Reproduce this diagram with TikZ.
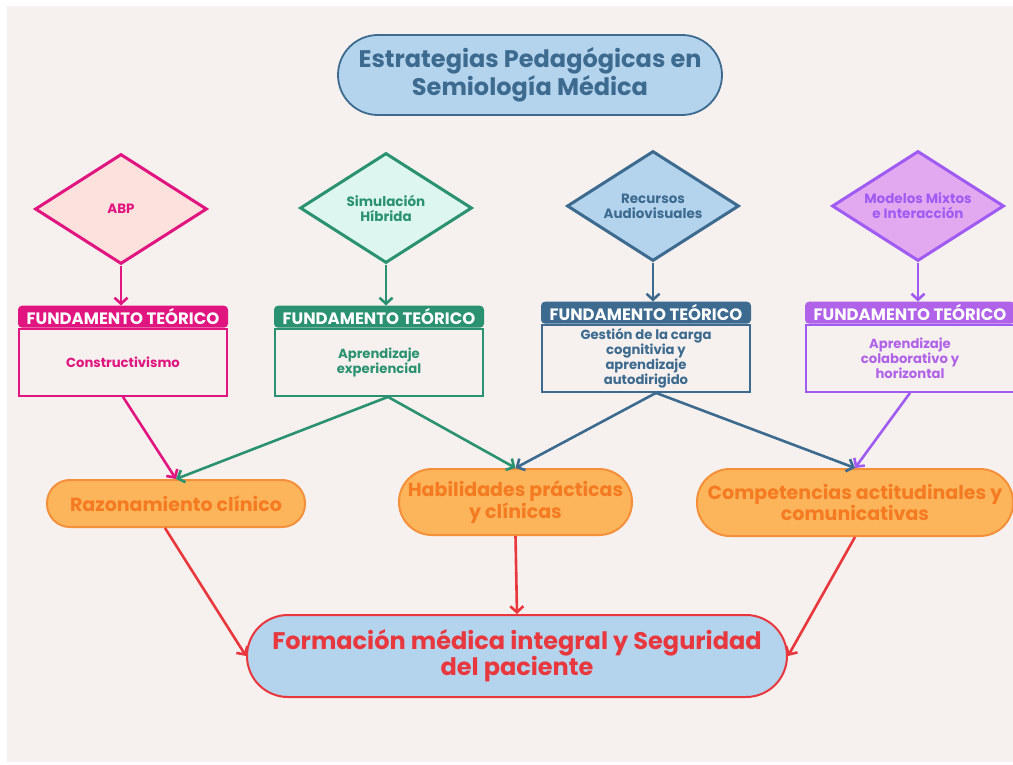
\documentclass[tikz,border=0pt]{standalone}
\usepackage{fontspec}
\setmainfont{Poppins}
\usetikzlibrary{shapes,arrows.meta,positioning,calc}
\definecolor{paper}{HTML}{F6F1EE}
\definecolor{pinkline}{HTML}{E0157F}
\definecolor{pinkfill}{HTML}{FDE1DC}
\definecolor{greenline}{HTML}{2A9270}
\definecolor{greenfill}{HTML}{DDF6EF}
\definecolor{blueline}{HTML}{3D6A8F}
\definecolor{bluefill}{HTML}{B4D4EE}
\definecolor{purpleline}{HTML}{A05CF2}
\definecolor{purplefill}{HTML}{E2A8F0}
\definecolor{purplehead}{HTML}{B062E8}
\definecolor{orangeline}{HTML}{F5903A}
\definecolor{orangefill}{HTML}{FDB55B}
\definecolor{orangetext}{HTML}{F47B22}
\definecolor{redline}{HTML}{E8383D}
\tikzstyle{title} = [rectangle, draw=blueline, fill=bluefill, text=blueline, line width=1.8pt, rounded corners=40pt, minimum width=384pt, minimum height=80pt, align=center, font=\fontsize{24}{26}\selectfont\bfseries]
\tikzstyle{strategy} = [diamond, draw, line width=3pt, shape aspect=1.56, minimum width=172pt, minimum height=110pt, inner sep=0pt, align=center, font=\fontsize{13.5}{15}\selectfont\bfseries]
\tikzstyle{header} = [rectangle, rounded corners=4pt, text=white, minimum width=210pt, minimum height=22pt, inner sep=0pt, font=\fontsize{16.5}{18}\selectfont\bfseries]
\tikzstyle{theory} = [rectangle, draw, line width=2pt, minimum width=208pt, minimum height=67pt, align=center, font=\fontsize{13.2}{14}\selectfont\bfseries]
\tikzstyle{outcome} = [rectangle, draw=orangeline, fill=orangefill, text=orangetext, line width=2pt, align=center, font=\fontsize{19}{20}\selectfont\bfseries]
\tikzstyle{goal} = [rectangle, draw=redline, fill=bluefill, text=redline, line width=2pt, rounded corners=41pt, minimum width=540pt, minimum height=82pt, align=center, font=\fontsize{24}{26}\selectfont\bfseries]
\tikzstyle{line} = [draw, line width=2.6pt, -{Straight Barb[length=6pt,width=13pt]}]

\begin{document}
\begin{tikzpicture}[x=1pt, y=-1pt]
		\fill[white] (0,0) rectangle (1013,765);
		\fill[paper] (7,6) rectangle (1013,762);
		\useasboundingbox (0,0) rectangle (1013,765);

		% Title
		\node[title] (Title) at (530,75) {Estrategias Pedagógicas en\\Semiología Médica};

		% Row 1
		\node[strategy, draw=pinkline, fill=pinkfill, text=pinkline] (ABP) at (121,209) {ABP};
		\node[strategy, draw=greenline, fill=greenfill, text=greenline] (Hybrid) at (386,208) {Simulación\\Híbrida};
		\node[strategy, draw=blueline, fill=bluefill, text=blueline] (Audiovisual) at (653,206) {Recursos\\Audiovisuales};
		\node[strategy, draw=purpleline, fill=purplefill, text=purpleline] (Mixed) at (918,206) {Modelos Mixtos\\e Interacción};

		% Row 2
		\node[header, fill=pinkline, below=40pt of ABP, xshift=2pt] (HeadABP) {FUNDAMENTO TEÓRICO};
		\node[header, fill=greenline, below=41pt of Hybrid, xshift=-7pt] (HeadHybrid) {FUNDAMENTO TEÓRICO};
		\node[header, fill=blueline, below=39pt of Audiovisual, xshift=-7pt] (HeadAudiovisual) {FUNDAMENTO TEÓRICO};
		\node[header, fill=purplehead, below=39pt of Mixed, xshift=-8pt] (HeadMixed) {FUNDAMENTO TEÓRICO};
		\node[theory, draw=pinkline, text=pinkline, below=0pt of HeadABP] (Constructivism) {Constructivismo};
		\node[theory, draw=greenline, text=greenline, below=0pt of HeadHybrid] (Experiential) {Aprendizaje\\experiencial};
		\node[theory, draw=blueline, text=blueline, below=0pt of HeadAudiovisual] (Cognitive) {Gestión de la carga\\cognitivia y\\aprendizaje\\autodirigido};
		\node[theory, draw=purpleline, text=purplehead, below=0pt of HeadMixed] (Collaborative) {Aprendizaje\\colaborativo y\\horizontal};

		% Row 3
		\node[outcome, minimum width=258pt, minimum height=47pt, rounded corners=23pt] (Reasoning) at (176,503.5) {Razonamiento clínico};
		\node[outcome, minimum width=233pt, minimum height=66pt, rounded corners=33pt] (Skills) at (515.5,502) {Habilidades prácticas\\y clínicas};
		\node[outcome, minimum width=316pt, minimum height=67pt, rounded corners=33pt] (Attitudes) at (855,502.5) {Competencias actitudinales y\\comunicativas};

		% Row 4
		\node[goal] (Training) at (517,656) {Formación médica integral y Seguridad\\del paciente};

		% Paths
		\path [line, pinkline] (ABP.south) -- (ABP.south |- HeadABP.north);
		\path [line, greenline] (Hybrid.south) -- (Hybrid.south |- HeadHybrid.north);
		\path [line, blueline] (Audiovisual.south) -- (Audiovisual.south |- HeadAudiovisual.north);
		\path [line, purpleline] (Mixed.south) -- (Mixed.south |- HeadMixed.north);
		\path [line, pinkline] (Constructivism.south) -- (Reasoning.north);
		\path [line, greenline] ($(Experiential.south)+(9,0)$) -- (Reasoning.north);
		\path [line, greenline] ($(Experiential.south)+(9,0)$) -- (Skills.north);
		\path [line, blueline] ($(Cognitive.south)+(10,0)$) -- (Skills.north);
		\path [line, blueline] ($(Cognitive.south)+(10,0)$) -- (Attitudes.north);
		\path [line, purpleline] (Collaborative.south) -- (Attitudes.north);
		\path [line, redline] ($(Reasoning.south)+(-11,0)$) -- (Training.west);
		\path [line, redline] (Skills.south) -- (Training.north);
		\path [line, redline] (Attitudes.south) -- (Training.east);

	\end{tikzpicture}
\end{document}
